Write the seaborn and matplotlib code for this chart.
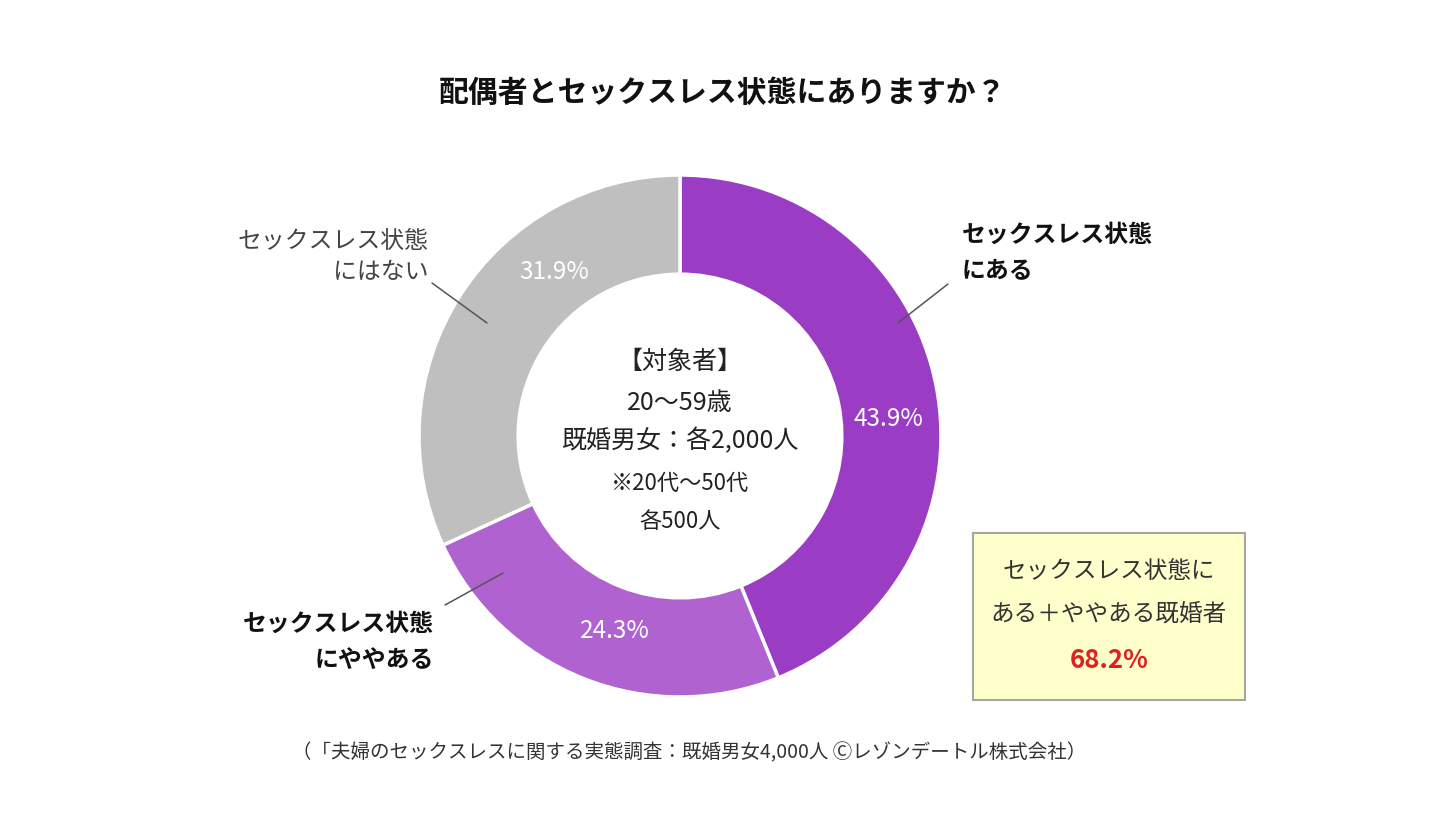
import matplotlib
matplotlib.use("Agg")
import matplotlib.pyplot as plt
import seaborn as sns
from matplotlib.patches import Rectangle

# データ
categories = ["セックスレス状態にある", "セックスレス状態にややある", "セックスレス状態にはない"]
shares = [43.9, 24.3, 31.9]
pct_labels = ["43.9%", "24.3%", "31.9%"]
colors = ["#9b3cc4", "#b062d0", "#bfbfbf"]
total_label = "68.2%"

sns.set_theme(style="white")
plt.rcParams["font.family"] = ["Noto Sans CJK JP", "DejaVu Sans"]

W, H = 1440, 819
fig = plt.figure(figsize=(14.4, 8.19), dpi=100)
ax = fig.add_axes([0, 0, 1, 1])
ax.set_xlim(0, W)
ax.set_ylim(0, H)
ax.set_aspect("equal")
ax.axis("off")

def py(y):
    # Pixelkoordinate von oben -> Datenkoordinate von unten
    return H - y

cx, cy, r = 680, py(436), 261
ax.pie(shares, colors=colors, startangle=90, counterclock=False,
       center=(cx, cy), radius=r,
       wedgeprops=dict(width=r * 0.38, edgecolor="white", linewidth=2.5))
ax.set_xlim(0, W)
ax.set_ylim(0, H)

# Prozentwerte im Ring
pct_pos = [(888, 419), (615, 631), (554, 272)]
for (x, y), t in zip(pct_pos, pct_labels):
    ax.text(x, py(y), t, color="white", fontsize=17.5, ha="center", va="center")

# Titel
ax.text(723, py(93), "配偶者とセックスレス状態にありますか？", fontsize=21.5,
        fontweight="bold", ha="center", va="center", color="#111111")

# Beschriftungen außen
ax.text(962, py(253), "セックスレス状態\nにある", fontsize=17.2, fontweight="bold",
        ha="left", va="center", linespacing=1.65, color="#111111")
ax.text(429, py(257), "セックスレス状態\nにはない", fontsize=17.2,
        ha="right", va="center", linespacing=1.45, color="#444444", multialignment="right")
ax.text(434, py(642), "セックスレス状態\nにややある", fontsize=17.2, fontweight="bold",
        ha="right", va="center", linespacing=1.65, color="#111111", multialignment="right")

# Führungslinien
for (x1, y1), (x2, y2) in [((948, 284), (898, 323)),
                           ((432, 283), (487, 323)),
                           ((445, 605), (503, 573))]:
    ax.plot([x1, x2], [py(y1), py(y2)], color="#555555", lw=1.1)

# Text in der Mitte
center_lines = [("【対象者】", 362, 18), ("20〜59歳", 403, 18),
                ("既婚男女：各2,000人", 441, 18), ("※20代〜50代", 483, 16),
                ("各500人", 521, 16)]
for t, y, fs in center_lines:
    ax.text(680, py(y), t, fontsize=fs, ha="center", va="center", color="#222222")

# Kasten unten rechts
ax.add_patch(Rectangle((973, py(700)), 272, 167, facecolor="#ffffcc",
                       edgecolor="#a6a6a6", lw=1.5))
ax.text(1109, py(571), "セックスレス状態に", fontsize=17, ha="center", va="center", color="#333333")
ax.text(1109, py(614), "ある＋ややある既婚者", fontsize=17, ha="center", va="center", color="#333333")
ax.text(1109, py(661), total_label, fontsize=18.5, fontweight="bold", ha="center",
        va="center", color="#e02020")

# Quelle
ax.text(689, py(753), "（「夫婦のセックスレスに関する実態調査：既婚男女4,000人 Ⓒレゾンデートル株式会社）",
        fontsize=14, ha="center", va="center", color="#333333")

fig.savefig("out.png", dpi=100, facecolor="white")
